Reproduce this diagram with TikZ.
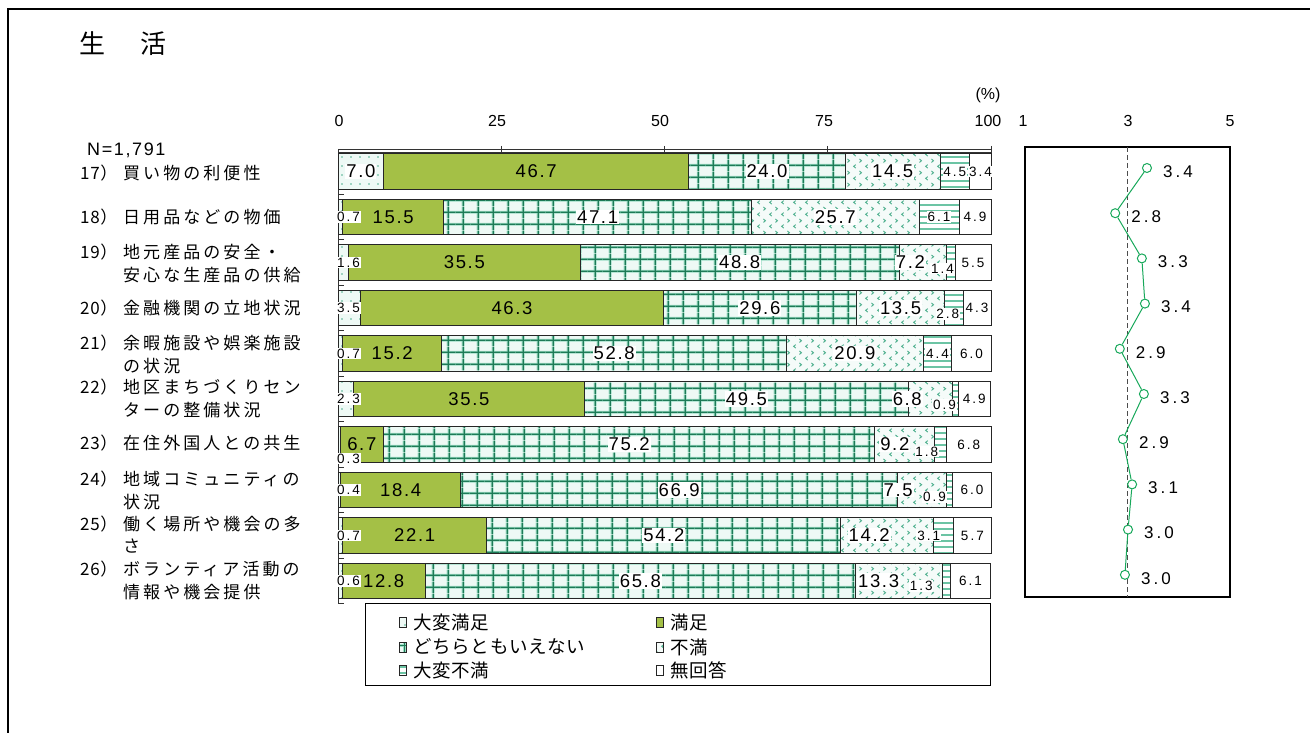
\documentclass[tikz,border=0pt]{standalone}
\usepackage{fontspec}
\setmainfont{Liberation Sans}
\newfontfamily\jpfont{Noto Sans CJK JP}[LetterSpace=18]
\newfontfamily\lgfont{Noto Sans CJK JP}[LetterSpace=4]
\newfontfamily\numfont{Liberation Sans}[LetterSpace=9]
\newfontfamily\numsfont{Liberation Sans}[LetterSpace=15]
\newfontfamily\valfont{Liberation Sans}[LetterSpace=18]
\usetikzlibrary{patterns.meta}
\definecolor{sfolive}{HTML}{A4C046}
\definecolor{sfgridc}{HTML}{1E7A57}
\definecolor{sfgridl}{HTML}{9ADDC4}
\definecolor{sfdot}{HTML}{4FB08E}
\definecolor{sfstripe}{HTML}{6CC4A4}
\definecolor{sfline}{HTML}{17A85A}
\definecolor{sfpale}{HTML}{EEF9F5}

\tikzdeclarepattern{
  name=sfgrid,
  type=colored,
  bounding box={(0pt,0pt) and (14.7pt,11.7pt)},
  tile size={(14.7pt,11.7pt)},
  code={
    \draw[sfgridl, line width=3pt] (7.35pt,0pt) -- (7.35pt,11.7pt);
    \draw[sfgridl, line width=3pt] (0pt,5.85pt) -- (14.7pt,5.85pt);
    \draw[sfgridc, line width=1.2pt] (7.35pt,0pt) -- (7.35pt,11.7pt);
    \draw[sfgridc, line width=1.2pt] (0pt,5.85pt) -- (14.7pt,5.85pt);
  }
}
\tikzdeclarepattern{
  name=sfchev,
  type=uncolored,
  bounding box={(0pt,0pt) and (12pt,12pt)},
  tile size={(12pt,12pt)},
  code={
    \draw[line width=1pt] (4pt,1pt) -- (1.8pt,2.8pt) -- (4pt,4.6pt);
    \draw[line width=1pt] (8pt,7pt) -- (10.2pt,8.8pt) -- (8pt,10.6pt);
  }
}

\begin{document}
\begin{tikzpicture}[
    x=1pt, y=-1pt,
    seg/.style={draw=black!85, line width=0.8pt},
    s1/.style={seg, preaction={fill=sfpale}, pattern={Dots[distance=9pt,radius=0.8pt]}, pattern color=sfdot},
    s2/.style={seg, fill=sfolive},
    s3/.style={seg, preaction={fill=sfpale}, pattern=sfgrid},
    s4/.style={seg, preaction={fill=sfpale!60!white}, pattern=sfchev, pattern color=sfdot},
    s5/.style={seg, preaction={fill=white}, pattern={Lines[angle=0,distance=6pt,line width=2pt]}, pattern color=sfstripe},
    s6/.style={seg, fill=white},
    lblbig/.style={font=\numfont\fontsize{18.5}{20}\selectfont, fill=white, inner sep=1pt},
    lblolive/.style={font=\numfont\fontsize{18.5}{20}\selectfont, inner sep=1pt},
    lblsmall/.style={font=\numsfont\fontsize{13.5}{15}\selectfont, fill=white, inner sep=0.8pt},
    rownum/.style={font=\lgfont\fontsize{17}{19}\selectfont, anchor=west, inner sep=0pt},
    rowlab/.style={font=\jpfont\fontsize{17}{19}\selectfont, anchor=west, inner sep=0pt},
    axislab/.style={font=\fontsize{16}{18}\selectfont},
    mk/.style={circle, draw=sfline, fill=white, line width=1pt, minimum size=9pt, inner sep=0pt},
    mval/.style={font=\valfont\fontsize{17}{19}\selectfont},
    legtext/.style={font=\lgfont\fontsize{18.5}{20}\selectfont, anchor=west, inner sep=0pt}
]
\useasboundingbox (0,0) rectangle (1310,733);

% Frame
\draw[line width=2pt] (8,733) -- (8,9) -- (1310,9);

% Title
\node[font=\jpfont\fontsize{26}{28}\selectfont, anchor=west, inner sep=0pt] (title) at (79,44) {生　活};
\node[font=\numfont\fontsize{18}{20}\selectfont, anchor=west, inner sep=0pt] (nsize) at (87,150) {N=1,791};

% Percent axis
\node[axislab] (p0) at (339,121) {0};
\node[axislab] (p25) at (497,121) {25};
\node[axislab] (p50) at (660,121) {50};
\node[axislab] (p75) at (824,121) {75};
\node[axislab] (p100) at (988,121) {100};
\node[axislab] (punit) at (988,95) {(\%)};
\draw[black!80, line width=0.6pt] (338,149) rectangle (991,152.5);
\foreach \t in {25,50,75,100}
  \draw[black!80, line width=0.8pt] ({338+6.53*\t},146) -- ({338+6.53*\t},155);
\draw[black!80, line width=0.8pt] (338,149) -- (338,604);
\foreach \k in {0,...,9}
  \draw[black!80, line width=0.8pt] (338,{194.25+45.5*\k}) -- (344,{194.25+45.5*\k});

% Bars
\foreach \i/\va/\vb/\vc/\vd/\ve/\vf/\ay/\dd/\ex/\ey in {
    1/7.0/46.7/24.0/14.5/4.5/3.4/0/0/0/0,
    2/0.7/15.5/47.1/25.7/6.1/4.9/0/0/0/0,
    3/1.6/35.5/48.8/7.2/1.4/5.5/0/-12/-8/6,
    4/3.5/46.3/29.6/13.5/2.8/4.3/0/0/-6/6,
    5/0.7/15.2/52.8/20.9/4.4/6.0/0/0/0/0,
    6/2.3/35.5/49.5/6.8/0.9/4.9/0/-23/-11/6,
    7/0.3/6.7/75.2/9.2/1.8/6.8/14/-10/-14/7,
    8/0.4/18.4/66.9/7.5/0.9/6.0/0/-24/-15/7,
    9/0.7/22.1/54.2/14.2/3.1/5.7/0/-18/-15/0,
    10/0.6/12.8/65.8/13.3/1.3/6.1/0/-20/-25/5}{
  \pgfmathsetmacro\yc{171.5+45.5*(\i-1)}
  \pgfmathsetmacro\xb{338+6.53*\va}
  \pgfmathsetmacro\xc{\xb+6.53*\vb}
  \pgfmathsetmacro\xd{\xc+6.53*\vc}
  \pgfmathsetmacro\xe{\xd+6.53*\vd}
  \pgfmathsetmacro\xf{\xe+6.53*\ve}
  \pgfmathsetmacro\xg{\xf+6.53*\vf}
  \path[s1] (338,\yc-17.75) rectangle (\xb,\yc+17.75);
  \path[s2] (\xb,\yc-17.75) rectangle (\xc,\yc+17.75);
  \path[s3] (\xc,\yc-17.75) rectangle (\xd,\yc+17.75);
  \path[s4] (\xd,\yc-17.75) rectangle (\xe,\yc+17.75);
  \path[s5] (\xe,\yc-17.75) rectangle (\xf,\yc+17.75);
  \path[s6] (\xf,\yc-17.75) rectangle (\xg,\yc+17.75);
  \ifdim\va pt<5pt
    \node[lblsmall, anchor=west] (a\i) at (336,\yc+\ay) {\va};
  \else
    \node[lblbig] (a\i) at ({(338+\xb)/2},\yc) {\va};
  \fi
  \node[lblolive] (b\i) at ({(\xb+\xc)/2},\yc) {\vb};
  \node[lblbig] (c\i) at ({(\xc+\xd)/2},\yc) {\vc};
  \node[lblbig] (d\i) at ({(\xd+\xe)/2+\dd},\yc) {\vd};
  \node[lblsmall] (e\i) at ({(\xe+\xf)/2+\ex},\yc+\ey) {\ve};
  \node[lblsmall] (f\i) at ({(\xf+\xg)/2},\yc) {\vf};
}

% Item labels
\node[rownum] (n17) at (80,173) {17）};
\node[rowlab] (l17) at (123,173) {買い物の利便性};
\node[rownum] (n18) at (80,217) {18）};
\node[rowlab] (l18) at (123,217) {日用品などの物価};
\node[rownum] (n19) at (80,252) {19）};
\node[rowlab] (l19a) at (123,252) {地元産品の安全・};
\node[rowlab] (l19b) at (123,275) {安心な生産品の供給};
\node[rownum] (n20) at (80,308) {20）};
\node[rowlab] (l20) at (123,308) {金融機関の立地状況};
\node[rownum] (n21) at (80,343) {21）};
\node[rowlab] (l21a) at (123,343) {余暇施設や娯楽施設};
\node[rowlab] (l21b) at (123,366) {の状況};
\node[rownum] (n22) at (80,387) {22）};
\node[rowlab] (l22a) at (123,387) {地区まちづくりセン};
\node[rowlab] (l22b) at (123,410) {ターの整備状況};
\node[rownum] (n23) at (80,443) {23）};
\node[rowlab] (l23) at (123,443) {在住外国人との共生};
\node[rownum] (n24) at (80,479) {24）};
\node[rowlab] (l24a) at (123,479) {地域コミュニティの};
\node[rowlab] (l24b) at (123,502) {状況};
\node[rownum] (n25) at (80,524) {25）};
\node[rowlab] (l25a) at (123,524) {働く場所や機会の多};
\node[rowlab] (l25b) at (123,546) {さ};
\node[rownum] (n26) at (80,569) {26）};
\node[rowlab] (l26a) at (123,569) {ボランティア活動の};
\node[rowlab] (l26b) at (123,592) {情報や機会提供};

% Mean score panel
\node[axislab] (q1) at (1023,121) {1};
\node[axislab] (q3) at (1128,121) {3};
\node[axislab] (q5) at (1230,121) {5};
\draw[line width=1.2pt] (1025,147) rectangle (1230,597);
\draw[black!70, line width=0.9pt, dash pattern=on 5pt off 3pt] (1127.5,147) -- (1127.5,597);
\foreach \i/\m/\t in {1/3.38/3.4, 2/2.76/2.8, 3/3.28/3.3, 4/3.34/3.4, 5/2.85/2.9,
    6/3.32/3.3, 7/2.91/2.9, 8/3.09/3.1, 9/3.01/3.0, 10/2.95/3.0} {
  \node[mk] (m\i) at ({1025+51.25*(\m-1)},{168+45.2*(\i-1)}) {};
  \node[mval] (t\i) at ([xshift=31pt, yshift=-3.5pt] m\i) {\t};
}
\draw[sfline, line width=1pt] (m1) -- (m2) -- (m3) -- (m4) -- (m5) -- (m6) -- (m7) -- (m8) -- (m9) -- (m10);

% Legend
\draw[line width=0.9pt] (365,603) rectangle (990,685);
\path[s1, line width=0.6pt] (399,617) rectangle (406,627);
\node[legtext] (g1) at (413,622) {大変満足};
\path[s3, line width=0.6pt] (399,642) rectangle (406,652);
\node[legtext] (g3) at (413,647) {どちらともいえない};
\path[s5, line width=0.6pt] (399,665) rectangle (406,675);
\node[legtext] (g5) at (413,670) {大変不満};
\path[s2, line width=0.6pt] (656,617) rectangle (663,627);
\node[legtext] (g2) at (670,622) {満足};
\path[s4, line width=0.6pt] (656,642) rectangle (663,652);
\node[legtext] (g4) at (670,647) {不満};
\path[s6, line width=0.6pt] (656,665) rectangle (663,675);
\node[legtext] (g6) at (670,670) {無回答};

\end{tikzpicture}
\end{document}
